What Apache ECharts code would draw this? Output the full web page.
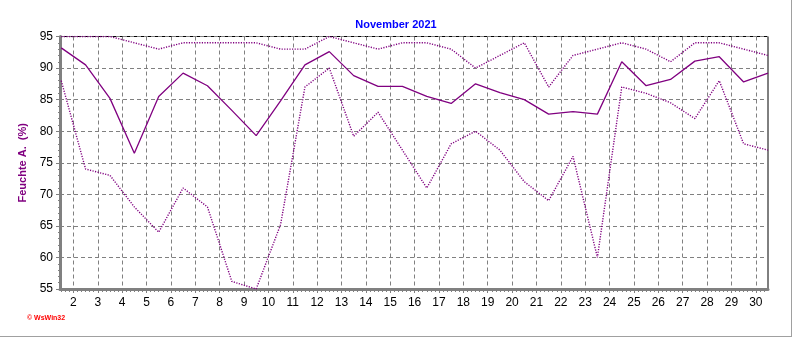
<!DOCTYPE html>
<html><head><meta charset="utf-8">
<script src="https://cdn.jsdelivr.net/npm/echarts@6/dist/echarts.min.js"></script>
<style>html,body{margin:0;padding:0;background:#fff}#c{width:792px;height:337px}</style>
</head><body><div id="c"></div>
<script>
// Days of November (daily values plotted at midday)
const days = [1,2,3,4,5,6,7,8,9,10,11,12,13,14,15,16,17,18,19,20,21,22,23,24,25,26,27,28,29,30];
// Humidity max (%)
const humMax = [95,95,95,94,93,94,94,94,94,93,93,95,94,93,94,94,93,90,92,94,87,92,93,94,93,91,94,94,93,92];
// Humidity mean (%)
const humMean = [93.2,90.5,85.2,76.5,85.5,89.2,87.2,83.3,79.3,84.8,90.5,92.6,88.8,87.1,87.1,85.5,84.4,87.5,86.1,85.0,82.7,83.1,82.7,91.0,87.2,88.2,91.1,91.8,87.8,89.2];
// Humidity min (%)
const humMin = [88,74,73,68,64,71,68,56.2,55,65.2,87,90,79.2,83,77,71,78,80,77,72,69,76,60,87,86,84.5,82,88,78,77];
// X tick labels
const xTicks = [2,3,4,5,6,7,8,9,10,11,12,13,14,15,16,17,18,19,20,21,22,23,24,25,26,27,28,29,30];

const minorTicks = [];
for (let d = 1; d <= 30; d++) for (let k = 1; k < 6; k++) { const v = d + k/6; if (v > 1.45 && v < 30.5) minorTicks.push(v); }

const toPts = arr => days.map((d,i) => [d + 0.5, arr[i]]);
const purple = '#800080';
const font = 'Liberation Sans, Arial, sans-serif';

const chart = echarts.init(document.getElementById('c'), null, {renderer:'canvas'});
chart.setOption({
  animation: false,
  backgroundColor: '#fff',
  title: {
    text: 'November 2021', left: 'center', top: 14,
    textStyle: {color: '#0000ff', fontSize: 11, fontWeight: 'bold', fontFamily: font}
  },
  grid: {left: 60, right: 24, top: 36.5, bottom: 48, show: true, borderColor: '#000', borderWidth: 1, backgroundColor: 'transparent'},
  xAxis: [{
    type: 'value', min: 1.45, max: 30.5,
    axisLine: {show: true, onZero: false, lineStyle: {color: '#808080', width: 3}},
    axisTick: {show: true, customValues: xTicks, length: 4, lineStyle: {color: '#808080'}},
    axisLabel: {customValues: xTicks, margin: 8, color: '#000', fontSize: 12, fontFamily: font},
    splitLine: {show: true, lineStyle: {color: '#808080', type: [4,3], width: 1}}
  }, {
    type: 'value', min: 1.45, max: 30.5, position: 'bottom',
    axisLine: {show: false, onZero: false},
    axisTick: {show: true, customValues: minorTicks, length: 3, lineStyle: {color: '#808080'}},
    axisLabel: {show: false},
    splitLine: {show: false}
  }],
  yAxis: {
    type: 'value', min: 55, max: 95, interval: 5,
    name: 'Feuchte A.  (%)', nameLocation: 'middle', nameGap: 25, nameRotate: 90,
    nameTextStyle: {color: purple, fontSize: 11, fontWeight: 'bold', fontFamily: font},
    axisLine: {show: true, lineStyle: {color: '#808080', width: 3}},
    axisTick: {show: true, length: 4, lineStyle: {color: '#808080'}},
    minorTick: {show: true, splitNumber: 5, length: 2, lineStyle: {color: '#808080'}},
    axisLabel: {margin: 7, color: '#000', fontSize: 12, fontFamily: font},
    splitLine: {show: true, lineStyle: {color: '#808080', type: [4,3], width: 1}}
  },
  series: [
    {type: 'line', name: 'max', data: toPts(humMax), showSymbol: false, lineStyle: {color: purple, width: 1.4, type: [1.2,1.4]}, z: 3},
    {type: 'line', name: 'mean', data: toPts(humMean), showSymbol: false, lineStyle: {color: purple, width: 1.3}, z: 4},
    {type: 'line', name: 'min', data: toPts(humMin), showSymbol: false, lineStyle: {color: purple, width: 1.4, type: [1.2,1.4]}, z: 3}
  ],
  graphic: [
    {type: 'line', shape: {x1: 791.5, y1: 0, x2: 791.5, y2: 337}, style: {stroke: '#a0a0a0', lineWidth: 1}},
    {type: 'line', shape: {x1: 0, y1: 336.5, x2: 792, y2: 336.5}, style: {stroke: '#a0a0a0', lineWidth: 1}},
    {type: 'text', left: 27, top: 315, style: {text: '© WsWin32', fill: '#ff0000', font: 'bold 7px Liberation Sans, Arial, sans-serif'}}
  ]
});
</script></body></html>
